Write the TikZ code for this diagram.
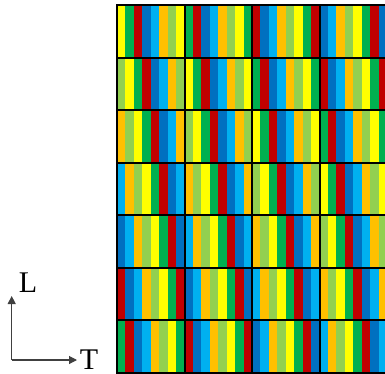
\documentclass[tikz,border=0pt]{standalone}
\usepackage{fontspec}
\setmainfont{Liberation Serif}
\usetikzlibrary{arrows.meta}

\definecolor{stripe0}{HTML}{FFFF00}
\definecolor{stripe1}{HTML}{00B050}
\definecolor{stripe2}{HTML}{C00000}
\definecolor{stripe3}{HTML}{0070C0}
\definecolor{stripe4}{HTML}{00B0F0}
\definecolor{stripe5}{HTML}{FFC000}
\definecolor{stripe6}{HTML}{92D050}

\begin{document}
\begin{tikzpicture}[
    x=1pt, y=-1pt,
    cell/.style={draw=black, line width=2pt},
    axis/.style={-{Triangle[length=8pt, width=8pt]}, draw=black!75, line width=1.1pt},
    axislabel/.style={inner sep=0pt, font=\fontsize{30}{30}\selectfont}
]
\useasboundingbox (0,0) rectangle (385,374);

% Colour stripes, shifted by one stripe per row
\foreach \r in {0,...,6}{
  \foreach \k in {0,...,31}{
    \pgfmathtruncatemacro\ci{mod(\k-\r+7,7)}
    \fill[stripe\ci] (117+\k*8.4375, 5.5+\r*52.43) rectangle ++(8.9,52.43);
  }
}

% Cell grid
\foreach \r in {0,...,6}{
  \foreach \c in {0,...,3}{
    \draw[cell] (117+\c*67.5, 5.5+\r*52.43) rectangle ++(67.5,52.43);
  }
}

% Axes
\coordinate (origin) at (11.7,360);
\coordinate (ltip) at (11.7,296);
\coordinate (ttip) at (77,360);
\node[axislabel] (lname) at (28,283) {L};
\node[axislabel] (tname) at (89,360) {T};

\draw[axis] (origin) -- (ltip);
\draw[axis] (origin) -- (ttip);

\end{tikzpicture}
\end{document}
